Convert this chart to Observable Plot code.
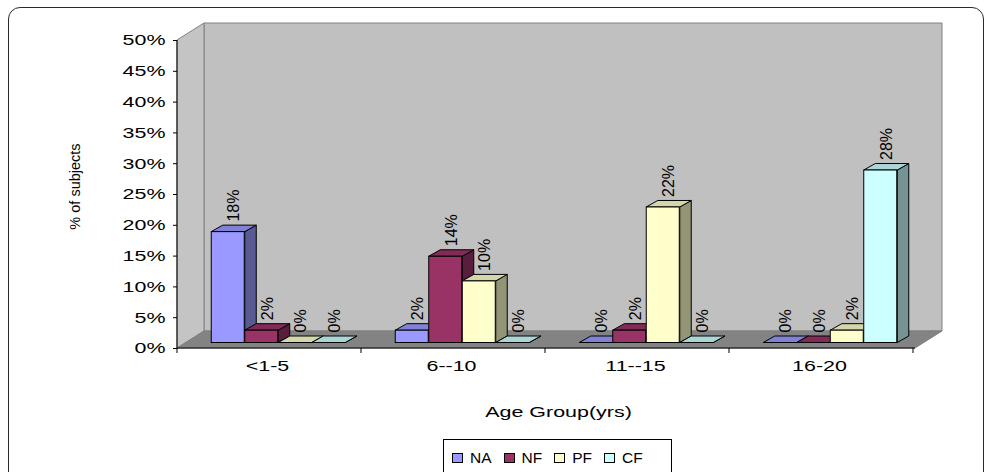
<!DOCTYPE html>
<html>
<head>
<meta charset="utf-8">
<script src="https://cdn.jsdelivr.net/npm/d3@7"></script>
<script src="https://cdn.jsdelivr.net/npm/@observablehq/plot@0.6"></script>
<style>
  html, body { margin: 0; padding: 0; background: #fff; }
  #chart {
    position: relative; width: 990px; height: 472px; overflow: hidden;
    font-family: Arial, "Liberation Sans", sans-serif; color: #000;
  }
  #chart .border {
    position: absolute; left: 8px; top: 7px; width: 976px; height: 490px;
    border: 1.5px solid #2a2a2a; border-radius: 12px; box-sizing: border-box;
    pointer-events: none;
  }
  #chart svg { display: block; }
  .legend {
    margin-left: 443px; margin-top: 3px; width: 229px; height: 40px;
    border: 1px solid #000; box-sizing: border-box;
    display: flex; align-items: flex-start; gap: 12px;
    padding: 10px 0 0 8px; font-size: 15.5px; line-height: 15px;
  }
  .legend .item { display: flex; align-items: center; }
  .legend .swatch {
    width: 11px; height: 10px; border: 1px solid #000; box-sizing: border-box;
    margin-right: 7px;
  }
</style>
</head>
<body>
<div id="chart"><div class="border"></div></div>
<script>
// Share of subjects (%) by age group and category
const ageGroups = ["<1-5", "6--10", "11--15", "16-20"];
const seriesNames = ["NA", "NF", "PF", "CF"];
const naValues = [18, 2, 0, 0];
const nfValues = [2, 14, 2, 0];
const pfValues = [0, 10, 22, 2];
const cfValues = [0, 0, 0, 28];
const yTicks = [0, 5, 10, 15, 20, 25, 30, 35, 40, 45, 50];
const seriesColors = ["#9999ff", "#993366", "#ffffcc", "#ccffff"];
const xTitle = "Age Group(yrs)";
const yTitle = "% of subjects";

const seriesValues = [naValues, nfValues, pfValues, cfValues];
// one row per bar, ordered left to right so nearer faces paint last
const rows = ageGroups.flatMap((group, i) =>
  seriesNames.map((series, j) => ({group, series, index: j, value: seriesValues[j][i]}))
);

// layout
const W = 990, H = 436;
const M = {left: 177, right: 75, top: 40, bottom: 88};
const band = (W - M.left - M.right) / ageGroups.length;
const barW = 33.5;
const room = {dx: 27, dy: -17};     // depth of the walls and floor
const seat = {dx: 8, dy: -5.5};     // bars stand part-way back on the floor
const depth = {dx: 11.5, dy: -6.5}; // depth of each bar
const groupPad = (band - seriesNames.length * barW) / 2;
const fontFamily = "Arial, 'Liberation Sans', sans-serif";

const shade = (c, f) => {
  const r = d3.rgb(c);
  return d3.rgb(r.r * f, r.g * f, r.b * f).formatHex();
};
const pts = (list) => list.map((p) => p.join(",")).join(" ");

// walls, floor, axis lines and category boundary ticks
function roomMark(index, scales, values, dims) {
  const x0 = dims.marginLeft, x1 = dims.width - dims.marginRight;
  const yb = scales.y(0), yt = scales.y(yTicks[yTicks.length - 1]);
  const g = d3.create("svg:g").attr("stroke", "#808080").attr("stroke-width", 1);
  g.append("polygon").attr("fill", "#c0c0c0")
    .attr("points", pts([[x0 + room.dx, yt + room.dy], [x1 + room.dx, yt + room.dy], [x1 + room.dx, yb + room.dy], [x0 + room.dx, yb + room.dy]]));
  g.append("polygon").attr("fill", "#c4c4c4")
    .attr("points", pts([[x0, yt], [x0 + room.dx, yt + room.dy], [x0 + room.dx, yb + room.dy], [x0, yb]]));
  g.append("polygon").attr("fill", "#838383")
    .attr("points", pts([[x0, yb], [x1, yb], [x1 + room.dx, yb + room.dy], [x0 + room.dx, yb + room.dy]]));
  const bw = typeof scales.x.bandwidth === "function" ? scales.x.bandwidth() : band;
  const axes = g.append("g").attr("stroke", "#000");
  for (let i = 0; i <= ageGroups.length; ++i) {
    const x = x0 + i * bw;
    axes.append("line").attr("x1", x).attr("x2", x).attr("y1", yb).attr("y2", yb + 5);
  }
  axes.append("line").attr("x1", x0).attr("x2", x0).attr("y1", yt).attr("y2", yb);
  axes.append("line").attr("x1", x0).attr("x2", x1).attr("y1", yb).attr("y2", yb);
  return g.node();
}

// side and top faces of every bar
function barDepthMark(index, scales, values, dims) {
  const g = d3.create("svg:g").attr("stroke", "#000").attr("stroke-width", 1).attr("stroke-linejoin", "round");
  for (const d of rows) {
    const color = seriesColors[d.index];
    const l = scales.x(d.group) + groupPad + d.index * barW + seat.dx;
    const r = l + barW;
    const b = scales.y(0) + seat.dy;
    const t = scales.y(d.value) + seat.dy;
    g.append("polygon").attr("fill", shade(color, 0.58))
      .attr("points", pts([[r, b], [r + depth.dx, b + depth.dy], [r + depth.dx, t + depth.dy], [r, t]]));
    g.append("polygon").attr("fill", shade(color, 0.84))
      .attr("points", pts([[l, t], [l + depth.dx, t + depth.dy], [r + depth.dx, t + depth.dy], [r, t]]));
  }
  return g.node();
}

const frontFaces = seriesNames.map((s, j) =>
  Plot.barY(rows.filter((d) => d.index === j), {
    x: "group", y: "value",
    fill: seriesColors[j], stroke: "#000", strokeWidth: 1,
    insetLeft: groupPad + j * barW,
    insetRight: band - groupPad - (j + 1) * barW,
    dx: seat.dx, dy: seat.dy
  })
);

const valueLabels = seriesNames.map((s, j) =>
  Plot.text(rows.filter((d) => d.index === j), {
    x: "group", y: "value",
    text: (d) => `${d.value}%`,
    rotate: -90, textAnchor: "start",
    dx: -band / 2 + groupPad + (j + 0.5) * barW + seat.dx + depth.dx / 2,
    dy: seat.dy + depth.dy - 4,
    fontSize: 16, fill: "#000"
  })
);

const chart = Plot.plot({
  width: W, height: H,
  marginLeft: M.left, marginRight: M.right, marginTop: M.top, marginBottom: M.bottom,
  style: {fontFamily, fontSize: "15px", color: "#000", background: "transparent", overflow: "visible"},
  x: {type: "band", domain: ageGroups, padding: 0, label: null},
  y: {domain: [0, 50], label: null},
  marks: [
    roomMark,
    barDepthMark,
    ...frontFaces,
    ...valueLabels,
    Plot.axisY({ticks: yTicks, tickFormat: (d) => `${d}%`, tickSize: 4, tickPadding: 8, fontSize: 15, label: null, stroke: "#000"}),
    Plot.axisX({tickSize: 0, tickPadding: 12, fontSize: 15, label: null, dx: -3}),
    Plot.text([xTitle], {frameAnchor: "bottom", lineAnchor: "middle", dy: 64, dx: 12, fontSize: 15}),
    Plot.text([yTitle], {frameAnchor: "left", textAnchor: "middle", rotate: -90, dx: -102, dy: -8, fontSize: 14.5})
  ]
});

// horizontal lettering is set wide: stretch each text about its own anchor
function widenText(texts, k) {
  texts.forEach((t) => {
    const tr = t.getAttribute("transform") || "";
    t.setAttribute("transform", `${tr} scale(${k},1)`);
  });
}
const wideTexts = [
  ...chart.querySelectorAll('g[aria-label="y-axis tick label"] text, g[aria-label="x-axis tick label"] text'),
  ...[...chart.querySelectorAll("text")].filter((t) => t.textContent === xTitle)
];
widenText(wideTexts, 1.43);

const container = document.getElementById("chart");
container.appendChild(chart);

// legend below the plot
const legend = document.createElement("div");
legend.className = "legend";
seriesNames.forEach((s, j) => {
  const item = document.createElement("span");
  item.className = "item";
  const sw = document.createElement("span");
  sw.className = "swatch";
  sw.style.background = seriesColors[j];
  item.appendChild(sw);
  item.appendChild(document.createTextNode(s));
  legend.appendChild(item);
});
container.appendChild(legend);
</script>
</body>
</html>
